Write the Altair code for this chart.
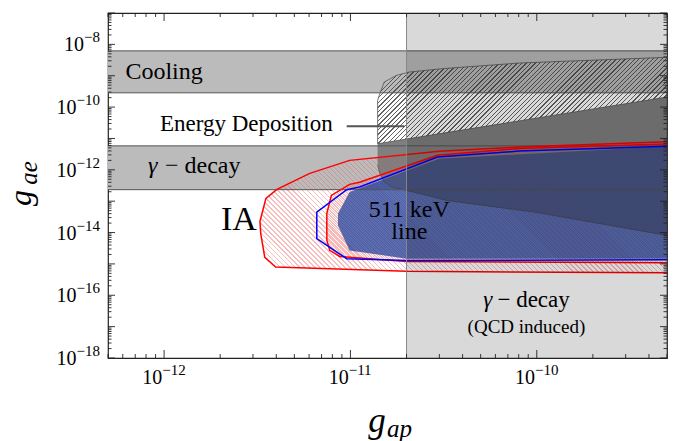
import altair as alt
import pandas as pd
import numpy as np

# ---------------- axis ranges ----------------
X_DOMAIN = [5e-13, 5e-10]
Y_DOMAIN = [1e-18, 1e-7]
W, H = 559, 345

x_tick_vals = [1e-12, 1e-11, 1e-10]
x_tick_exps = ["−12", "−11", "−10"]
y_tick_vals = [1e-18, 1e-16, 1e-14, 1e-12, 1e-10, 1e-8]
y_tick_exps = ["−18", "−16", "−14", "−12", "−10", "−8"]

x_major = [1e-12, 1e-11, 1e-10]
x_minor = [m * 10.0 ** e for e in (-13, -12, -11, -10) for m in range(2, 10)
           if X_DOMAIN[0] <= m * 10.0 ** e <= X_DOMAIN[1]]
y_major = [10.0 ** e for e in range(-18, -6)]
y_minor = [m * 10.0 ** e for e in range(-18, -7) for m in range(2, 10)]

# ---------------- excluded bands ----------------
band_names = ["Cooling", "gamma decay"]
band_lo = [2.85e-10, 2.33e-13]
band_hi = [6.2e-9, 5.8e-12]
qcd_x = [2e-11, 5e-10]

# ---------------- energy deposition ----------------
ed_hatch_x = [1.4e-11, 1.4e-11, 1.44e-11, 1.52e-11, 1.77e-11, 2.07e-11, 3.12e-11, 8.07e-11, 5e-10, 5e-10]
ed_hatch_y = [6.8e-12, 1.64e-10, 2.75e-10, 6.3e-10, 1.03e-9, 1.31e-9, 1.68e-9, 2.54e-9, 3.86e-9, 2.1e-10]

ed_solid_x = [1.4e-11, 5e-10, 5e-10, 9.9e-11, 3.28e-11, 2.56e-11, 2.0e-11, 1.68e-11, 1.52e-11, 1.44e-11, 1.4e-11]
ed_solid_y = [6.8e-12, 2.1e-10, 8.1e-15, 4.4e-14, 1.06e-13, 1.53e-13, 2.21e-13, 2.82e-13, 4.07e-13, 7.5e-13, 1.39e-12]

pointer_x = [9.55e-12, 1.95e-11]
pointer_y = 2.43e-11

# ---------------- IA regions (red) ----------------
ia_x = [5e-10, 8.07e-11, 3.0e-11, 9.9e-12, 6.05e-12, 4.03e-12, 3.52e-12, 3.27e-12, 3.3e-12, 3.47e-12, 3.97e-12, 2.0e-11, 5e-10]
ia_y = [7.8e-12, 5.3e-12, 3.88e-12, 2.0e-12, 7.7e-13, 2.38e-13, 1.23e-13, 2.27e-14, 9.4e-15, 1.61e-15, 8.0e-16, 5.8e-16, 5.2e-16]

ia2_x = [5e-10, 8.07e-11, 2.93e-11, 1.12e-11, 9.9e-12, 7.9e-12, 7.47e-12, 7.47e-12, 7.75e-12, 8.75e-12, 2.0e-11, 5e-10]
ia2_y = [6.7e-12, 4.8e-12, 2.89e-12, 4.0e-13, 3.44e-13, 1.53e-13, 4.1e-14, 5.6e-15, 2.7e-15, 1.73e-15, 1.2e-15, 1.08e-15]

# ---------------- 511 keV line regions (blue) ----------------
line_out_x = [5e-10, 8.07e-11, 2.93e-11, 1.12e-11, 9.55e-12, 6.6e-12, 6.6e-12, 9.55e-12, 2.0e-11, 5e-10]
line_out_y = [5.6e-12, 3.96e-12, 2.55e-12, 2.82e-13, 2.33e-13, 4.5e-14, 6.4e-15, 1.47e-15, 1.29e-15, 1.36e-15]

line_fill_x = [5e-10, 3.0e-11, 9.9e-12, 8.57e-12, 8.57e-12, 9.9e-12, 2.0e-11, 5e-10]
line_fill_y = [5.6e-12, 2.27e-12, 1.95e-13, 3.99e-14, 1.69e-14, 2.7e-15, 1.47e-15, 1.47e-15]

# ---------------- annotations ----------------
ann_text = ["Cooling", "Energy Deposition"]
ann_x = [6.2e-13, 9.5e-13]
ann_y = [1.28e-9, 2.82e-11]
ann_size = [24, 23]

gamma_label = ("γ", "− decay", 8.2e-13, 1.29e-12, 24)
ia_label = ("IA", 2.52e-12, 2.44e-14, 34)
line_label = (["511 keV", "line"], [2.07e-11, 2.07e-11], [5.4e-14, 1.07e-14], 24)
qcd_gamma = ("γ", "− decay", 8.8e-11, 6.9e-17, 23)
qcd_sub = ("(QCD induced)", 8.8e-11, 1.01e-17, 19)

FONT = "Liberation Serif"
LX0, LX1 = np.log10(X_DOMAIN)
LY0, LY1 = np.log10(Y_DOMAIN)

XS = alt.Scale(type="log", domain=X_DOMAIN, nice=False)
YS = alt.Scale(type="log", domain=Y_DOMAIN, nice=False)

BASE_FS, EXP_FS = 20, 15


def exp_width(e):
    return 0.564 * EXP_FS + 0.5 * EXP_FS * (len(e) - 1)


def hatch(xs, ys, direction, spacing, lw, color):
    pxs = [(np.log10(x) - LX0) / (LX1 - LX0) * W for x in xs]
    pys = [(LY1 - np.log10(y)) / (LY1 - LY0) * H for y in ys]
    bw = max(pxs) - min(pxs)
    bh = max(pys) - min(pys)
    k = (bw + bh) / (bw ** 2 + bh ** 2)
    if direction == "back":
        x1, y1, x2, y2 = 0, 1, k * bw, 1 - k * bh
    else:
        x1, y1, x2, y2 = 0, 0, k * bw, k * bh
    ext = (bw + bh) / np.sqrt(2)
    n = int(ext / spacing)
    f = lw / spacing
    clear = "rgba(255,255,255,0)"
    stops = []
    for j in range(n):
        a, b, c = j / n, (j + f) / n, (j + 1) / n
        stops += [{"offset": a, "color": color}, {"offset": b, "color": color},
                  {"offset": b, "color": clear}, {"offset": c, "color": clear}]
    return {"gradient": "linear", "x1": float(x1), "y1": float(y1),
            "x2": float(x2), "y2": float(y2), "stops": stops}


def poly(xs, ys, **mark):
    df = pd.DataFrame({"gx": xs, "gy": ys, "i": list(range(len(xs)))})
    return alt.Chart(df).mark_line(clip=True, **mark).encode(
        x=alt.X("gx:Q", scale=XS, axis=None),
        y=alt.Y("gy:Q", scale=YS, axis=None),
        order="i:Q",
    )


bands_df = pd.DataFrame({"name": band_names, "lo": band_lo, "hi": band_hi,
                         "x0": [X_DOMAIN[0]] * 2, "x1": [X_DOMAIN[1]] * 2})
bands = alt.Chart(bands_df).mark_rect(color="#bbbbbb").encode(
    x=alt.X("x0:Q", scale=XS, axis=None), x2="x1:Q",
    y=alt.Y("lo:Q", scale=YS, axis=None), y2="hi:Q",
)

band_edges_df = pd.DataFrame({"v": band_lo + band_hi})
band_edges = alt.Chart(band_edges_df).mark_rule(color="#555555", strokeWidth=1).encode(
    y=alt.Y("v:Q", scale=YS, axis=None), x=alt.value(0), x2=alt.value(W))

ed_solid = poly(ed_solid_x, ed_solid_y, fill="#8c8c8c", strokeOpacity=0)
ed_tint = poly(ed_solid_x, ed_solid_y, fill="#646464", fillOpacity=0.3,
               stroke="#444444", strokeWidth=0.8, strokeOpacity=0.8)
ed_hatch = poly(ed_hatch_x, ed_hatch_y, fill=hatch(ed_hatch_x, ed_hatch_y, "fwd", 3.2, 0.9, "rgba(60,60,60,0.8)"),
                stroke="#555555", strokeWidth=1, strokeOpacity=0.8)

ia_h = poly(ia_x, ia_y, fill=hatch(ia_x, ia_y, "back", 3.5, 0.9, "rgba(235,90,90,0.4)"), strokeOpacity=0)
ia2_h = poly(ia2_x, ia2_y, fill=hatch(ia2_x, ia2_y, "back", 3.5, 0.9, "rgba(235,90,90,0.4)"), strokeOpacity=0)
line_fill = poly(line_fill_x, line_fill_y, fill="#1a3c9a", fillOpacity=0.72, strokeOpacity=0)

ia_line = poly(ia_x, ia_y, color="#ff0000", strokeWidth=1.5)
ia2_line = poly(ia2_x, ia2_y, color="#ff0000", strokeWidth=1.5)
line_out = poly(line_out_x, line_out_y, color="#0000ff", strokeWidth=1.5)

pointer = alt.Chart(pd.DataFrame({"a": [pointer_x[0]], "b": [pointer_x[1]], "y": [pointer_y]})).mark_rule(
    color="#555555", strokeWidth=2).encode(
    x=alt.X("a:Q", scale=XS, axis=None), x2="b:Q", y=alt.Y("y:Q", scale=YS, axis=None))

qcd_df = pd.DataFrame({"x0": [qcd_x[0]], "x1": [qcd_x[1]], "y0": [Y_DOMAIN[0]], "y1": [Y_DOMAIN[1]]})
qcd = alt.Chart(qcd_df).mark_rect(color="black", opacity=0.15).encode(
    x=alt.X("x0:Q", scale=XS, axis=None), x2="x1:Q",
    y=alt.Y("y0:Q", scale=YS, axis=None), y2="y1:Q")
qcd_edge = alt.Chart(qcd_df).mark_rule(color="#888888", strokeWidth=1).encode(
    x=alt.X("x0:Q", scale=XS, axis=None), y=alt.value(0), y2=alt.value(H))


def text_layer(texts, xs, ys, sizes, align="left", italic=False, dx=0):
    df = pd.DataFrame({"t": texts, "x": xs, "y": ys, "s": sizes})
    kw = dict(font=FONT, align=align, baseline="middle", color="black",
              fontStyle="italic" if italic else "normal")
    if dx:
        kw["dx"] = dx
    return alt.Chart(df).mark_text(**kw).encode(
        x=alt.X("x:Q", scale=XS, axis=None), y=alt.Y("y:Q", scale=YS, axis=None),
        text="t:N", size=alt.Size("s:Q", scale=None, legend=None))


ann = text_layer(ann_text, ann_x, ann_y, ann_size, "left")
g1a = text_layer([gamma_label[0]], [gamma_label[2]], [gamma_label[3]], [gamma_label[4]], "left", italic=True)
g1b = text_layer([gamma_label[1]], [gamma_label[2]], [gamma_label[3]], [gamma_label[4]], "left", dx=17)
ia_txt = text_layer([ia_label[0]], [ia_label[1]], [ia_label[2]], [ia_label[3]], "center")
line_txt = text_layer(line_label[0], line_label[1], line_label[2], [line_label[3]] * 2, "center")
g2a = text_layer([qcd_gamma[0]], [qcd_gamma[2]], [qcd_gamma[3]], [qcd_gamma[4]], "right", italic=True, dx=-34)
g2b = text_layer([qcd_gamma[1]], [qcd_gamma[2]], [qcd_gamma[3]], [qcd_gamma[4]], "left", dx=-29)
qcd_txt = text_layer([qcd_sub[0]], [qcd_sub[1]], [qcd_sub[2]], [qcd_sub[3]], "center")

# ---- tick labels: "10" with a raised exponent ----
tick_layers_txt = []
xw = exp_width(x_tick_exps[0])
half = (BASE_FS + xw) / 2.0
xdf = pd.DataFrame({"v": x_tick_vals, "e": x_tick_exps, "b": ["10"] * len(x_tick_vals)})
tick_layers_txt.append(alt.Chart(xdf).mark_text(
    font=FONT, fontSize=BASE_FS, align="right", baseline="alphabetic", color="black",
    dx=BASE_FS - half).encode(x=alt.X("v:Q", scale=XS, axis=None), y=alt.value(H + 26), text="b:N"))
tick_layers_txt.append(alt.Chart(xdf).mark_text(
    font=FONT, fontSize=EXP_FS, align="left", baseline="alphabetic", color="black",
    dx=BASE_FS - half).encode(x=alt.X("v:Q", scale=XS, axis=None), y=alt.value(H + 17), text="e:N"))

ydf = pd.DataFrame({"v": y_tick_vals, "e": y_tick_exps, "b": ["10"] * len(y_tick_vals),
                    "w": [exp_width(e) for e in y_tick_exps]})
tick_layers_txt.append(alt.Chart(ydf).mark_text(
    font=FONT, fontSize=EXP_FS, align="right", baseline="alphabetic", color="black", dy=-2).encode(
    y=alt.Y("v:Q", scale=YS, axis=None), x=alt.value(-8), text="e:N"))
for w, grp in ydf.groupby("w"):
    tick_layers_txt.append(alt.Chart(grp).mark_text(
        font=FONT, fontSize=BASE_FS, align="right", baseline="alphabetic", color="black", dy=7).encode(
        y=alt.Y("v:Q", scale=YS, axis=None), x=alt.value(-8 - float(w)), text="b:N"))


def ticks(vals, side, length):
    df = pd.DataFrame({"v": vals})
    m = alt.Chart(df).mark_rule(color="#222222", strokeWidth=0.9)
    if side == "left":
        return m.encode(y=alt.Y("v:Q", scale=YS, axis=None), x=alt.value(0), x2=alt.value(length))
    if side == "right":
        return m.encode(y=alt.Y("v:Q", scale=YS, axis=None), x=alt.value(W), x2=alt.value(W - length))
    if side == "bottom":
        return m.encode(x=alt.X("v:Q", scale=XS, axis=None), y=alt.value(H), y2=alt.value(H - length))
    return m.encode(x=alt.X("v:Q", scale=XS, axis=None), y=alt.value(0), y2=alt.value(length))


tick_layers = []
for side in ("left", "right"):
    tick_layers += [ticks(y_major, side, 7), ticks(y_minor, side, 3.5)]
for side in ("bottom", "top"):
    tick_layers += [ticks(x_major, side, 8), ticks(x_minor, side, 4)]


def title_text(t, px, py, size, angle=0, align="center"):
    df = pd.DataFrame({"t": [t]})
    kw = dict(font=FONT, fontStyle="italic", fontSize=size, align=align, baseline="alphabetic", color="black")
    if angle:
        kw["angle"] = angle
    return alt.Chart(df).mark_text(**kw).encode(text="t:N", x=alt.value(px), y=alt.value(py))


titles = [
    title_text("g", 269, 419, 35),
    title_text("ap", 279, 424, 25, align="left"),
    title_text("g", -77, 185, 32, angle=270),
    title_text("ae", -71, 160, 25, angle=270),
]

chart = alt.layer(
    bands, ed_solid, ed_hatch, ia_h, ia2_h, line_fill, ed_tint, band_edges,
    ia_line, ia2_line, line_out, pointer, qcd, qcd_edge,
    ann, g1a, g1b, ia_txt, line_txt, g2a, g2b, qcd_txt, *tick_layers_txt, *tick_layers, *titles,
).properties(
    width=W, height=H,
    autosize=alt.AutoSizeParams(type="none"),
    padding={"left": 100, "top": 5, "right": 5, "bottom": 100},
).configure_view(stroke="#222222", strokeWidth=1.2)

chart.save("out.html", embed_options={"renderer": "svg", "actions": False})
